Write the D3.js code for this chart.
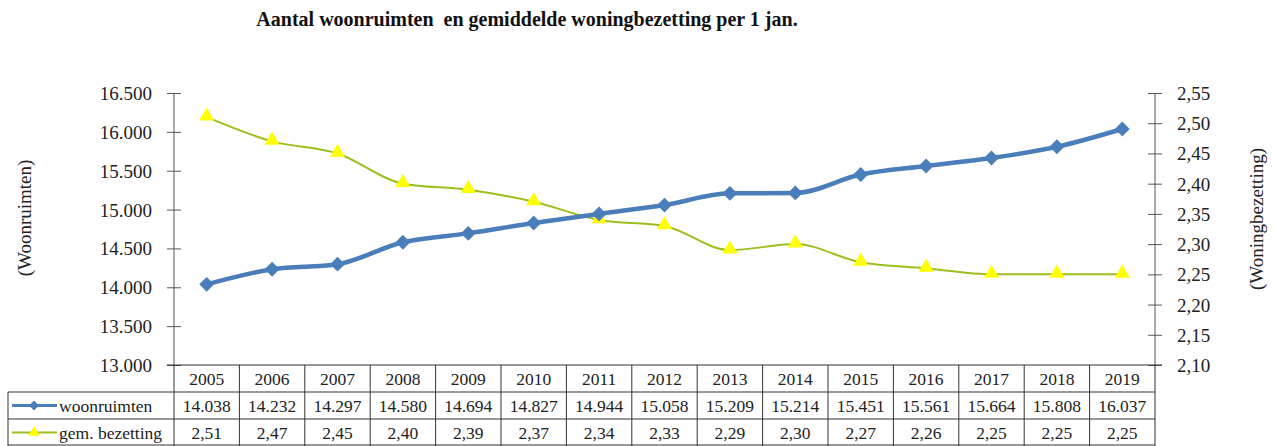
<!DOCTYPE html>
<html>
<head>
<meta charset="utf-8">
<script src="https://cdn.jsdelivr.net/npm/d3@7"></script>
<style>
  body { margin: 0; background: #fff; }
  svg, svg text { font-family: "Liberation Serif", Tinos, "Times New Roman", "DejaVu Serif", serif !important; }
</style>
</head>
<body>
<svg id="chart"></svg>
<script>
const years = [2005, 2006, 2007, 2008, 2009, 2010, 2011, 2012, 2013, 2014, 2015, 2016, 2017, 2018, 2019];
const woonruimten = [14038, 14232, 14297, 14580, 14694, 14827, 14944, 15058, 15209, 15214, 15451, 15561, 15664, 15808, 16037];
const bezetting = [2.51, 2.47, 2.45, 2.40, 2.39, 2.37, 2.34, 2.33, 2.29, 2.30, 2.27, 2.26, 2.25, 2.25, 2.25];
const leftTicks = [13000, 13500, 14000, 14500, 15000, 15500, 16000, 16500];
const rightTicks = [2.10, 2.15, 2.20, 2.25, 2.30, 2.35, 2.40, 2.45, 2.50, 2.55];

const svg_width = 1274, svg_height = 446;
const plot = { left: 174, right: 1155, top: 93, bottom: 365 };
const rowH = 27, legendLeft = 8;
const serif = '"Liberation Serif", Tinos, "Times New Roman", serif';

const svg = d3.select("#chart")
    .attr("width", svg_width)
    .attr("height", svg_height)
    .attr("font-family", serif);

const x = d3.scaleBand().domain(years).range([plot.left, plot.right]);
const yL = d3.scaleLinear().domain([13000, 16500]).range([plot.bottom, plot.top]);
const yR = d3.scaleLinear().domain([2.10, 2.55]).range([plot.bottom, plot.top]);

const fmtL = d => d3.format(",")(d).replace(/,/g, ".");
const fmtR = d => d3.format(".2f")(d).replace(".", ",");

// title
svg.append("text")
    .attr("x", 527).attr("y", 26)
    .attr("text-anchor", "middle")
    .attr("font-weight", "bold")
    .attr("font-size", 20)
    .attr("fill", "#111")
    .text("Aantal woonruimten  en gemiddelde woningbezetting per 1 jan.")
    .style("white-space", "pre");

// axes
const axisL = svg.append("g")
    .attr("transform", `translate(${plot.left},0)`)
    .call(d3.axisLeft(yL).tickValues(leftTicks).tickFormat(fmtL).tickSize(7).tickPadding(15));
const axisR = svg.append("g")
    .attr("transform", `translate(${plot.right},0)`)
    .call(d3.axisRight(yR).tickValues(rightTicks).tickFormat(fmtR).tickSize(7).tickPadding(15));
axisL.selectAll(".tick line").attr("x1", 7).attr("x2", -7);
axisR.selectAll(".tick line").attr("x1", -7).attr("x2", 7);
[axisL, axisR].forEach(a => {
    a.attr("font-family", serif).attr("font-size", 19);
    a.select(".domain").remove();
    a.selectAll(".tick line").attr("stroke", "#555");
    a.selectAll(".tick text").attr("fill", "#222").attr("dy", "0.34em");
});
svg.append("line").attr("x1", plot.left).attr("x2", plot.left).attr("y1", plot.top).attr("y2", plot.bottom).attr("stroke", "#555");
svg.append("line").attr("x1", plot.right).attr("x2", plot.right).attr("y1", plot.top).attr("y2", plot.bottom).attr("stroke", "#555");

svg.append("text")
    .attr("transform", `translate(31,${218}) rotate(-90)`)
    .attr("text-anchor", "middle").attr("font-size", 19).attr("fill", "#222")
    .text("(Woonruimten)");
svg.append("text")
    .attr("transform", `translate(1263,${219}) rotate(-90)`)
    .attr("text-anchor", "middle").attr("font-size", 19).attr("fill", "#222")
    .text("(Woningbezetting)");

// lines
const cx = (d, i) => x(years[i]) + x.bandwidth() / 2;
const lineB = d3.line().x(cx).y(d => yR(d)).curve(d3.curveMonotoneX);
const lineW = d3.line().x(cx).y(d => yL(d)).curve(d3.curveMonotoneX);

const yellowLine = "#9dbf1e", blue = "#4a7ebb", yellow = "#ffff00";

svg.append("path").datum(bezetting)
    .attr("d", lineB).attr("fill", "none").attr("stroke", yellowLine).attr("stroke-width", 2);
svg.append("path").datum(woonruimten)
    .attr("d", lineW).attr("fill", "none").attr("stroke", blue).attr("stroke-width", 4.5);

const tri = d3.symbol().type(d3.symbolTriangle).size(100);
const dia = d3.symbol().type(d3.symbolSquare).size(110);

svg.selectAll(".tri").data(bezetting).join("path")
    .attr("transform", (d, i) => `translate(${cx(d, i)},${yR(d) - 1})`)
    .attr("d", tri).attr("fill", yellow);
svg.selectAll(".dia").data(woonruimten).join("path")
    .attr("transform", (d, i) => `translate(${cx(d, i)},${yL(d)}) rotate(45)`)
    .attr("d", dia).attr("fill", blue);

// data table
const grid = svg.append("g").attr("stroke", "#333").attr("stroke-width", 1);
const t0 = plot.bottom;
grid.append("line").attr("x1", plot.left - 7).attr("x2", plot.right + 7).attr("y1", t0).attr("y2", t0);
[1, 2, 3].forEach(r => {
    grid.append("line").attr("x1", legendLeft).attr("x2", plot.right)
        .attr("y1", t0 + r * rowH - (r === 3 ? 1 : 0)).attr("y2", t0 + r * rowH - (r === 3 ? 1 : 0));
});
years.forEach(yr => {
    grid.append("line").attr("x1", x(yr)).attr("x2", x(yr)).attr("y1", t0).attr("y2", t0 + 3 * rowH);
});
grid.append("line").attr("x1", plot.right).attr("x2", plot.right).attr("y1", t0).attr("y2", t0 + 3 * rowH);
grid.append("line").attr("x1", legendLeft).attr("x2", legendLeft).attr("y1", t0 + rowH).attr("y2", t0 + 3 * rowH);

const rows = [years.map(String), woonruimten.map(fmtL), bezetting.map(fmtR)];
rows.forEach((row, r) => {
    svg.selectAll(null).data(row).join("text")
        .attr("x", (d, i) => x(years[i]) + x.bandwidth() / 2)
        .attr("y", t0 + r * rowH + 20)
        .attr("text-anchor", "middle")
        .attr("font-size", 17.5)
        .attr("fill", "#222")
        .text(d => d);
});

// legend column
const legY1 = t0 + rowH * 1.5, legY2 = t0 + rowH * 2.5;
svg.append("line").attr("x1", 12).attr("x2", 57).attr("y1", legY1).attr("y2", legY1).attr("stroke", blue).attr("stroke-width", 3);
svg.append("path").attr("d", d3.symbol().type(d3.symbolSquare).size(50)).attr("transform", `translate(34,${legY1}) rotate(45)`).attr("fill", blue);
svg.append("text").attr("x", 59).attr("y", legY1 + 6).attr("font-size", 17.5).attr("fill", "#222").text("woonruimten");
svg.append("line").attr("x1", 12).attr("x2", 57).attr("y1", legY2).attr("y2", legY2).attr("stroke", yellowLine).attr("stroke-width", 2);
svg.append("path").attr("d", d3.symbol().type(d3.symbolTriangle).size(55)).attr("transform", `translate(34,${legY2})`).attr("fill", yellow);
svg.append("text").attr("x", 59).attr("y", legY2 + 6).attr("font-size", 17.5).attr("fill", "#222").text("gem. bezetting");
</script>
</body>
</html>
